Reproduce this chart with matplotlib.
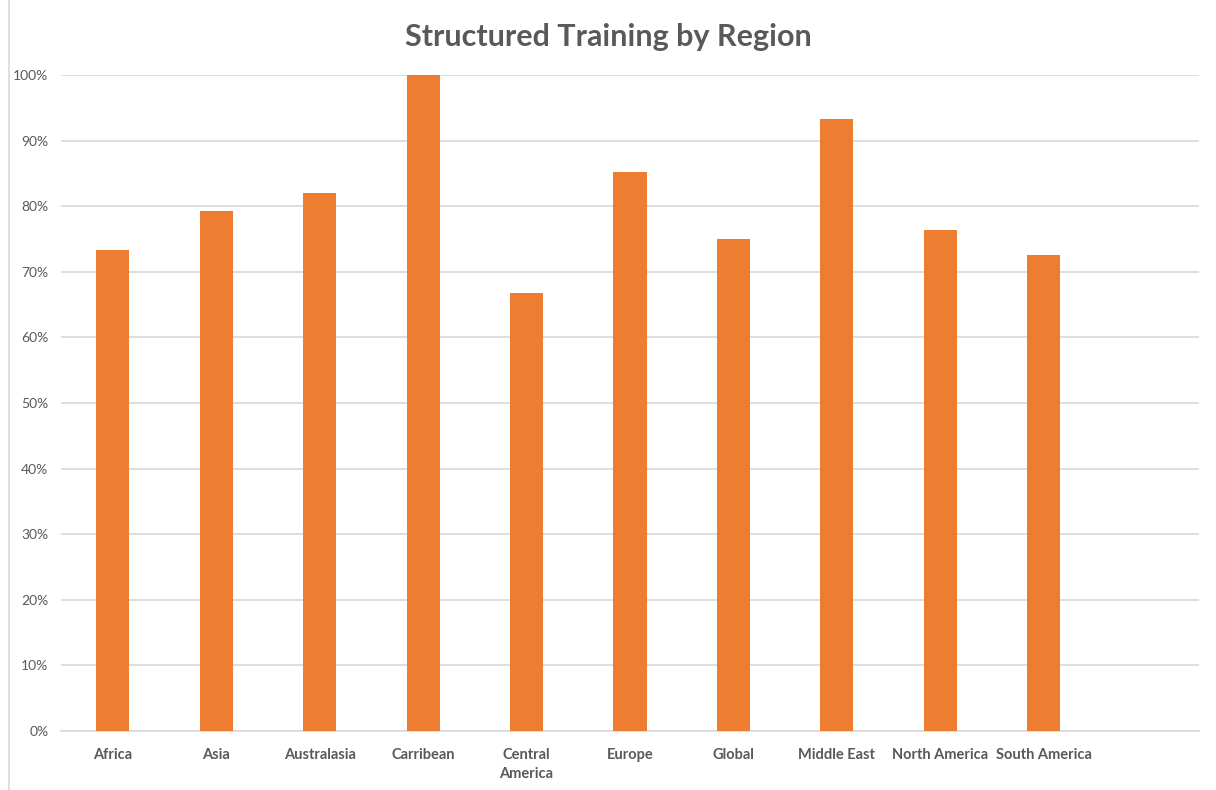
import matplotlib
matplotlib.use("Agg")
import matplotlib.pyplot as plt
from matplotlib.ticker import PercentFormatter

regions = ["Africa", "Asia", "Australasia", "Carribean", "Central\nAmerica",
           "Europe", "Global", "Middle East", "North America", "South America"]
structured = [73.4, 79.2, 82.0, 100.0, 66.7, 85.2, 75.0, 93.3, 76.4, 72.6]
y_ticks = list(range(0, 101, 10))

plt.rcParams['font.family'] = ['Lato', 'DejaVu Sans']
grey = "#595959"

fig = plt.figure(figsize=(12.16, 7.90), dpi=100)
ax = fig.add_axes([0.0502, 0.0747, 0.9358, 0.8303])

ax.bar(range(len(regions)), structured, width=0.32, color="#ED7D31", zorder=3)

ax.set_xlim(-0.5, len(regions) + 0.5)  # Excel left one empty slot on the right
ax.set_ylim(0, 100)
ax.set_yticks(y_ticks)
ax.yaxis.set_major_formatter(PercentFormatter(decimals=0))
ax.grid(axis="y", color="#d9d9d9", linewidth=1.2, zorder=0)
ax.set_xticks(range(len(regions)))
ax.set_xticklabels(regions, fontweight="bold", fontsize=10.5, color=grey,
                   va="top", linespacing=1.5)
ax.tick_params(axis="y", labelsize=10, labelcolor=grey, length=0, pad=9)
ax.tick_params(axis="x", length=0, pad=12)
for s in ["top", "right", "left"]:
    ax.spines[s].set_visible(False)
ax.spines["bottom"].set_color("#d9d9d9")
ax.spines["bottom"].set_linewidth(1.2)

fig.text(0.5, 0.953, "Structured Training by Region", ha="center", va="center",
         fontsize=22, fontweight="bold", color=grey)

# chart area border on the left edge
fig.add_artist(plt.Line2D([0.007, 0.007], [0, 1], color="#d9d9d9", lw=1.2))

fig.savefig("out.png", dpi=100)
